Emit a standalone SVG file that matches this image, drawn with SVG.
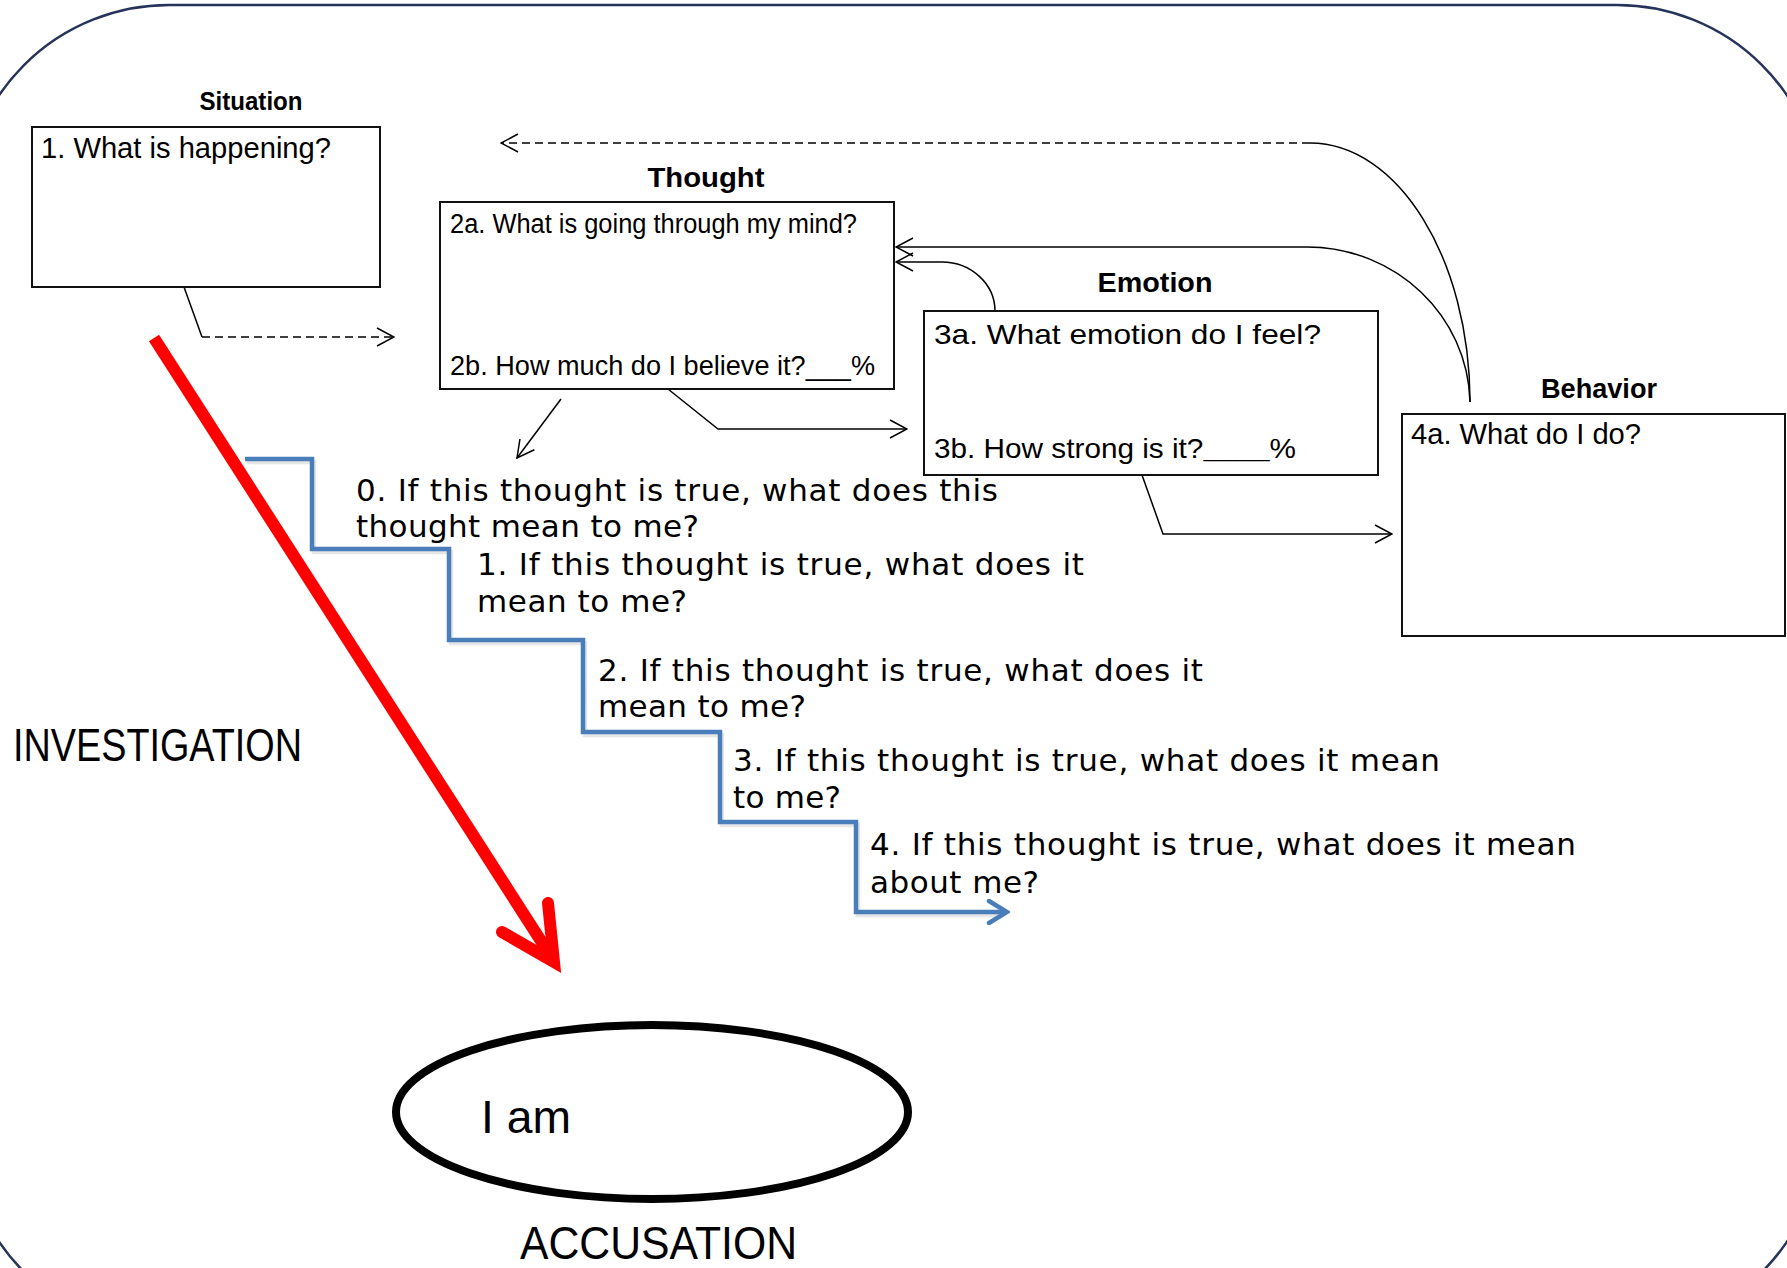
<svg xmlns="http://www.w3.org/2000/svg" width="1787" height="1268" viewBox="0 0 1787 1268">
  <defs>
    <style>
      .box { fill: #ffffff; stroke: #111111; stroke-width: 2; }
      .head { font-family: "Liberation Sans", Arial, sans-serif; font-weight: bold; fill: #000; text-anchor: middle; }
      .q { font-family: "Liberation Sans", Arial, sans-serif; fill: #000; }
      .step { font-family: "DejaVu Sans", Verdana, sans-serif; font-size: 31px; fill: #000; }
      .big { font-family: "Liberation Sans", Arial, sans-serif; fill: #000; }
      .link { fill: none; stroke: #000; stroke-width: 1.5; }
      .dash { stroke-dasharray: 8 5; }
      .stair { fill: none; stroke: #4A7EBB; stroke-width: 4.5; stroke-linejoin: miter; }
      .stair-shadow { fill: none; stroke: #9a9a9a; stroke-width: 4.5; opacity: 0.25; }
    </style>
    <marker id="open" viewBox="0 0 20 20" refX="19" refY="10" markerWidth="20" markerHeight="20" markerUnits="userSpaceOnUse" orient="auto">
      <path d="M2,1 L19,10 L2,19" fill="none" stroke="#000" stroke-width="1.5"/>
    </marker>
    <marker id="blueHead" viewBox="0 0 24 26" refX="21" refY="13" markerWidth="24" markerHeight="26" markerUnits="userSpaceOnUse" orient="auto">
      <path d="M3,2 L21,13 L3,24" fill="none" stroke="#4A7EBB" stroke-width="4.5" stroke-linecap="round"/>
    </marker>
  </defs>

  <rect width="1787" height="1268" fill="#ffffff"/>

  <!-- outer rounded frame -->
  <rect id="frame" x="-36" y="5" width="1858" height="1327" rx="205" ry="205" fill="none" stroke="#26335A" stroke-width="2.5"/>

  <!-- connectors -->
  <g id="connectors">
    <!-- situation to thought -->
    <path class="link" d="M184,287 L202,337"/>
    <path class="link dash" d="M202,337 L394,337" marker-end="url(#open)"/>
    <!-- behavior back to situation (dashed) -->
    <path class="link" d="M1470,402 C1470,259 1398,143 1310,143"/>
    <path class="link dash" d="M1310,143 L501,143" marker-end="url(#open)"/>
    <!-- behavior back to thought -->
    <path class="link" d="M1470,402 C1468,316 1396,247 1307,247 L896,247" marker-end="url(#open)"/>
    <!-- emotion back to thought -->
    <path class="link" d="M995,311 C995,284 971,262 942,262 L896,262" marker-end="url(#open)"/>
    <!-- thought to emotion -->
    <path class="link" d="M668,389 L718,429 L907,429" marker-end="url(#open)"/>
    <!-- emotion to behavior -->
    <path class="link" d="M1142,475 L1163,534 L1392,534" marker-end="url(#open)"/>
    <!-- thought down to the chain of questions -->
    <path class="link" d="M561,399 L517,458" marker-end="url(#open)"/>

    <!-- downward arrow of questions -->
    <path class="stair-shadow" transform="translate(2,3)" d="M245,459 H312 V549 H449 V640 H583 V732 H720 V822 H856 V912 H1000"/>
    <path class="stair" d="M245,459 H312 V549 H449 V640 H583 V732 H720 V822 H856 V912 H1007" marker-end="url(#blueHead)"/>

    <!-- investigation arrow -->
    <g id="investigation-arrow" stroke="#FF0000" fill="none" stroke-width="12">
      <path d="M154,338 L550,955" stroke-linecap="butt"/>
      <path d="M502,932 L554,962 L548,903" stroke-linecap="round" stroke-linejoin="miter" stroke-miterlimit="6"/>
    </g>
  </g>

  <!-- Situation -->
  <g id="situation">
    <text class="head" x="251" y="110" font-size="25" textLength="103" lengthAdjust="spacingAndGlyphs">Situation</text>
    <rect class="box" x="32" y="127" width="348" height="160"/>
    <text class="q" x="41" y="158" font-size="29" textLength="290" lengthAdjust="spacingAndGlyphs">1. What is happening?</text>
  </g>

  <!-- Thought -->
  <g id="thought">
    <text class="head" x="706" y="187" font-size="27" textLength="117" lengthAdjust="spacingAndGlyphs">Thought</text>
    <rect class="box" x="440" y="202" width="454" height="187"/>
    <text class="q" x="450" y="233" font-size="27" textLength="407" lengthAdjust="spacingAndGlyphs">2a. What is going through my mind?</text>
    <text class="q" x="450" y="375" font-size="27" textLength="425" lengthAdjust="spacingAndGlyphs">2b. How much do I believe it?___%</text>
  </g>

  <!-- Emotion -->
  <g id="emotion">
    <text class="head" x="1155" y="292" font-size="27" textLength="115" lengthAdjust="spacingAndGlyphs">Emotion</text>
    <rect class="box" x="924" y="311" width="454" height="164"/>
    <text class="q" x="934" y="344" font-size="28" textLength="387" lengthAdjust="spacingAndGlyphs">3a. What emotion do I feel?</text>
    <text class="q" x="934" y="458" font-size="28" textLength="362" lengthAdjust="spacingAndGlyphs">3b. How strong is it?<tspan font-weight="bold">____</tspan>%</text>
  </g>

  <!-- Behavior -->
  <g id="behavior">
    <text class="head" x="1599" y="398" font-size="27" textLength="116" lengthAdjust="spacingAndGlyphs">Behavior</text>
    <rect class="box" x="1402" y="414" width="383" height="222"/>
    <text class="q" x="1411" y="444" font-size="29" textLength="230" lengthAdjust="spacingAndGlyphs">4a. What do I do?</text>
  </g>

  <!-- chain of questions -->
  <g id="step-0">
    <text class="step" x="356" y="501" textLength="642">0. If this thought is true, what does this</text>
    <text class="step" x="356" y="537" textLength="343">thought mean to me?</text>
  </g>
  <g id="step-1">
    <text class="step" x="477" y="575" textLength="607">1. If this thought is true, what does it</text>
    <text class="step" x="477" y="612" textLength="210">mean to me?</text>
  </g>
  <g id="step-2">
    <text class="step" x="598" y="681" textLength="605">2. If this thought is true, what does it</text>
    <text class="step" x="598" y="717" textLength="208">mean to me?</text>
  </g>
  <g id="step-3">
    <text class="step" x="733" y="771" textLength="707">3. If this thought is true, what does it mean</text>
    <text class="step" x="733" y="808" textLength="108">to me?</text>
  </g>
  <g id="step-4">
    <text class="step" x="870" y="855" textLength="706">4. If this thought is true, what does it mean</text>
    <text class="step" x="870" y="893" textLength="169">about me?</text>
  </g>

  <!-- side labels -->
  <g id="investigation">
    <text class="big" x="13" y="761" font-size="47" textLength="289" lengthAdjust="spacingAndGlyphs">INVESTIGATION</text>
  </g>

  <!-- core belief -->
  <g id="accusation">
    <ellipse cx="652" cy="1112" rx="256" ry="87" fill="#ffffff" stroke="#000" stroke-width="8"/>
    <text class="big" x="481" y="1133" font-size="47" textLength="90" lengthAdjust="spacingAndGlyphs">I am</text>
    <text class="big" x="520" y="1259" font-size="46" textLength="277" lengthAdjust="spacingAndGlyphs">ACCUSATION</text>
  </g>
</svg>
